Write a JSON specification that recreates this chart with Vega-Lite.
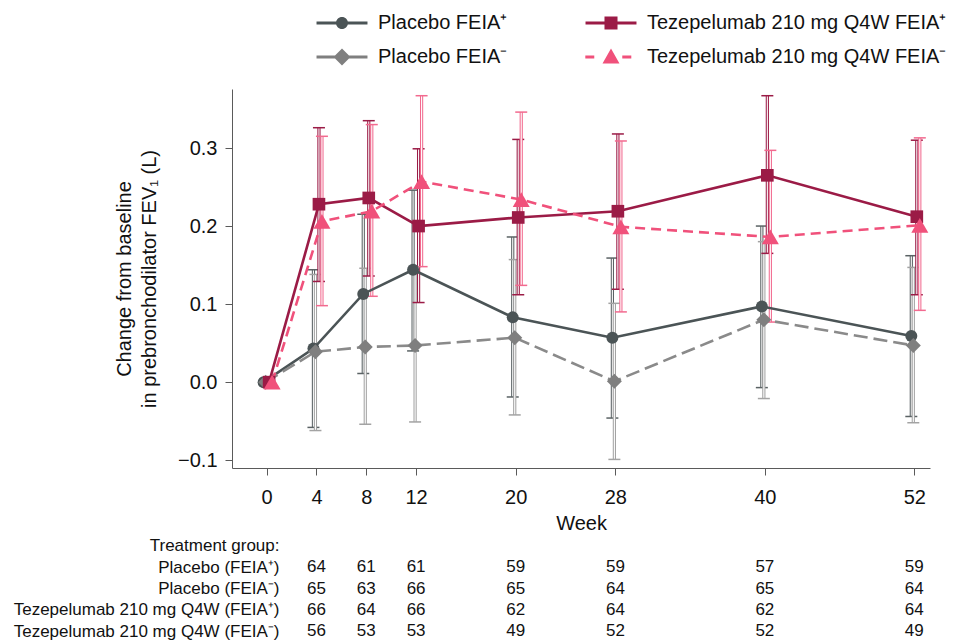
{
"$schema": "https://vega.github.io/schema/vega-lite/v6.json",
"padding": {"left": 13, "top": 13, "right": 5, "bottom": 5},
"config": {"font": "Liberation Sans", "view": {"stroke": null},
  "axis": {"grid": false, "domainColor": "#5a5a5a", "tickColor": "#5a5a5a", "labelColor": "#111111", "titleColor": "#111111", "labelFont": "Liberation Sans", "titleFont": "Liberation Sans", "titleFontWeight": "normal"}},
"datasets": {
 "fev": [
  {"series": "Placebo FEIA⁺", "week": 0, "mean": 0.0, "lo": null, "hi": null},
  {"series": "Placebo FEIA⁺", "week": 4, "mean": 0.043, "lo": -0.058, "hi": 0.144},
  {"series": "Placebo FEIA⁺", "week": 8, "mean": 0.113, "lo": 0.011, "hi": 0.215},
  {"series": "Placebo FEIA⁺", "week": 12, "mean": 0.144, "lo": 0.040, "hi": 0.246},
  {"series": "Placebo FEIA⁺", "week": 20, "mean": 0.083, "lo": -0.019, "hi": 0.186},
  {"series": "Placebo FEIA⁺", "week": 28, "mean": 0.057, "lo": -0.046, "hi": 0.159},
  {"series": "Placebo FEIA⁺", "week": 40, "mean": 0.097, "lo": -0.007, "hi": 0.200},
  {"series": "Placebo FEIA⁺", "week": 52, "mean": 0.059, "lo": -0.044, "hi": 0.162},
  {"series": "Placebo FEIA⁻", "week": 0, "mean": 0.0, "lo": null, "hi": null},
  {"series": "Placebo FEIA⁻", "week": 4, "mean": 0.039, "lo": -0.062, "hi": 0.138},
  {"series": "Placebo FEIA⁻", "week": 8, "mean": 0.045, "lo": -0.054, "hi": 0.146},
  {"series": "Placebo FEIA⁻", "week": 12, "mean": 0.047, "lo": -0.051, "hi": 0.148},
  {"series": "Placebo FEIA⁻", "week": 20, "mean": 0.057, "lo": -0.042, "hi": 0.157},
  {"series": "Placebo FEIA⁻", "week": 28, "mean": 0.001, "lo": -0.099, "hi": 0.101},
  {"series": "Placebo FEIA⁻", "week": 40, "mean": 0.080, "lo": -0.021, "hi": 0.180},
  {"series": "Placebo FEIA⁻", "week": 52, "mean": 0.047, "lo": -0.052, "hi": 0.147},
  {"series": "Tezepelumab 210 mg Q4W FEIA⁺", "week": 0, "mean": 0.0, "lo": null, "hi": null},
  {"series": "Tezepelumab 210 mg Q4W FEIA⁺", "week": 4, "mean": 0.228, "lo": 0.129, "hi": 0.326},
  {"series": "Tezepelumab 210 mg Q4W FEIA⁺", "week": 8, "mean": 0.236, "lo": 0.136, "hi": 0.335},
  {"series": "Tezepelumab 210 mg Q4W FEIA⁺", "week": 12, "mean": 0.200, "lo": 0.102, "hi": 0.299},
  {"series": "Tezepelumab 210 mg Q4W FEIA⁺", "week": 20, "mean": 0.211, "lo": 0.112, "hi": 0.311},
  {"series": "Tezepelumab 210 mg Q4W FEIA⁺", "week": 28, "mean": 0.219, "lo": 0.119, "hi": 0.318},
  {"series": "Tezepelumab 210 mg Q4W FEIA⁺", "week": 40, "mean": 0.265, "lo": 0.165, "hi": 0.367},
  {"series": "Tezepelumab 210 mg Q4W FEIA⁺", "week": 52, "mean": 0.212, "lo": 0.112, "hi": 0.310},
  {"series": "Tezepelumab 210 mg Q4W FEIA⁻", "week": 0, "mean": 0.0, "lo": null, "hi": null},
  {"series": "Tezepelumab 210 mg Q4W FEIA⁻", "week": 4, "mean": 0.206, "lo": 0.098, "hi": 0.315},
  {"series": "Tezepelumab 210 mg Q4W FEIA⁻", "week": 8, "mean": 0.219, "lo": 0.110, "hi": 0.330},
  {"series": "Tezepelumab 210 mg Q4W FEIA⁻", "week": 12, "mean": 0.257, "lo": 0.148, "hi": 0.367},
  {"series": "Tezepelumab 210 mg Q4W FEIA⁻", "week": 20, "mean": 0.234, "lo": 0.124, "hi": 0.346},
  {"series": "Tezepelumab 210 mg Q4W FEIA⁻", "week": 28, "mean": 0.199, "lo": 0.090, "hi": 0.309},
  {"series": "Tezepelumab 210 mg Q4W FEIA⁻", "week": 40, "mean": 0.186, "lo": 0.077, "hi": 0.297},
  {"series": "Tezepelumab 210 mg Q4W FEIA⁻", "week": 52, "mean": 0.201, "lo": 0.092, "hi": 0.313}
 ],
 "n": [
  {"group": "Placebo (FEIA⁺)", "week": 4, "n": 64},
  {"group": "Placebo (FEIA⁺)", "week": 8, "n": 61},
  {"group": "Placebo (FEIA⁺)", "week": 12, "n": 61},
  {"group": "Placebo (FEIA⁺)", "week": 20, "n": 59},
  {"group": "Placebo (FEIA⁺)", "week": 28, "n": 59},
  {"group": "Placebo (FEIA⁺)", "week": 40, "n": 57},
  {"group": "Placebo (FEIA⁺)", "week": 52, "n": 59},
  {"group": "Placebo (FEIA⁻)", "week": 4, "n": 65},
  {"group": "Placebo (FEIA⁻)", "week": 8, "n": 63},
  {"group": "Placebo (FEIA⁻)", "week": 12, "n": 66},
  {"group": "Placebo (FEIA⁻)", "week": 20, "n": 65},
  {"group": "Placebo (FEIA⁻)", "week": 28, "n": 64},
  {"group": "Placebo (FEIA⁻)", "week": 40, "n": 65},
  {"group": "Placebo (FEIA⁻)", "week": 52, "n": 64},
  {"group": "Tezepelumab 210 mg Q4W (FEIA⁺)", "week": 4, "n": 66},
  {"group": "Tezepelumab 210 mg Q4W (FEIA⁺)", "week": 8, "n": 64},
  {"group": "Tezepelumab 210 mg Q4W (FEIA⁺)", "week": 12, "n": 66},
  {"group": "Tezepelumab 210 mg Q4W (FEIA⁺)", "week": 20, "n": 62},
  {"group": "Tezepelumab 210 mg Q4W (FEIA⁺)", "week": 28, "n": 64},
  {"group": "Tezepelumab 210 mg Q4W (FEIA⁺)", "week": 40, "n": 62},
  {"group": "Tezepelumab 210 mg Q4W (FEIA⁺)", "week": 52, "n": 64},
  {"group": "Tezepelumab 210 mg Q4W (FEIA⁻)", "week": 4, "n": 56},
  {"group": "Tezepelumab 210 mg Q4W (FEIA⁻)", "week": 8, "n": 53},
  {"group": "Tezepelumab 210 mg Q4W (FEIA⁻)", "week": 12, "n": 53},
  {"group": "Tezepelumab 210 mg Q4W (FEIA⁻)", "week": 20, "n": 49},
  {"group": "Tezepelumab 210 mg Q4W (FEIA⁻)", "week": 28, "n": 52},
  {"group": "Tezepelumab 210 mg Q4W (FEIA⁻)", "week": 40, "n": 52},
  {"group": "Tezepelumab 210 mg Q4W (FEIA⁻)", "week": 52, "n": 49}
 ]
},
"spacing": 2,
"vconcat": [
 {
  "width": 698, "height": 379,
  "data": {"name": "fev"},
  "encoding": {
   "x": {"field": "week", "type": "quantitative", "scale": {"domain": [-2.78, 53.26], "nice": false, "zero": false},
         "axis": {"values": [0, 4, 8, 12, 20, 28, 40, 52], "format": "d", "labelFontSize": 20, "tickSize": 7, "labelPadding": 12, "title": "Week", "titleFontSize": 20, "titlePadding": 6}},
   "y": {"field": "mean", "type": "quantitative", "scale": {"domain": [-0.11, 0.3756], "nice": false, "zero": false},
         "axis": {"values": [-0.1, 0, 0.1, 0.2, 0.3], "format": ".1f", "labelFontSize": 20, "tickSize": 7, "labelPadding": 8, "title": ["Change from baseline", "in prebronchodilator FEV₁ (L)"], "titleFontSize": 20, "titleLineHeight": 25, "titlePadding": 18}}
  },
  "layer": [
   {"transform": [{"filter": "datum.series === 'Placebo FEIA⁺' && datum.week > 0"}],
    "layer": [
     {"mark": {"type": "rule", "color": "#5a6264", "strokeWidth": 3.2, "xOffset": -3}, "encoding": {"y": {"field": "lo", "type": "quantitative"}, "y2": {"field": "hi"}}},
     {"mark": {"type": "rule", "color": "#ffffff", "strokeWidth": 1.1, "xOffset": -3}, "encoding": {"y": {"field": "lo", "type": "quantitative"}, "y2": {"field": "hi"}}},
     {"mark": {"type": "tick", "orient": "horizontal", "color": "#5a6264", "size": 12, "thickness": 1.5, "opacity": 1, "xOffset": -3}, "encoding": {"y": {"field": "hi", "type": "quantitative"}}},
     {"mark": {"type": "tick", "orient": "horizontal", "color": "#5a6264", "size": 12, "thickness": 1.5, "opacity": 1, "xOffset": -3}, "encoding": {"y": {"field": "lo", "type": "quantitative"}}}
    ]},
   {"transform": [{"filter": "datum.series === 'Placebo FEIA⁻' && datum.week > 0"}],
    "layer": [
     {"mark": {"type": "rule", "color": "#a3a3a3", "strokeWidth": 3.2, "xOffset": -1}, "encoding": {"y": {"field": "lo", "type": "quantitative"}, "y2": {"field": "hi"}}},
     {"mark": {"type": "rule", "color": "#ffffff", "strokeWidth": 1.1, "xOffset": -1}, "encoding": {"y": {"field": "lo", "type": "quantitative"}, "y2": {"field": "hi"}}},
     {"mark": {"type": "tick", "orient": "horizontal", "color": "#a3a3a3", "size": 12, "thickness": 1.5, "opacity": 1, "xOffset": -1}, "encoding": {"y": {"field": "hi", "type": "quantitative"}}},
     {"mark": {"type": "tick", "orient": "horizontal", "color": "#a3a3a3", "size": 12, "thickness": 1.5, "opacity": 1, "xOffset": -1}, "encoding": {"y": {"field": "lo", "type": "quantitative"}}}
    ]},
   {"transform": [{"filter": "datum.series === 'Tezepelumab 210 mg Q4W FEIA⁺' && datum.week > 0"}],
    "layer": [
     {"mark": {"type": "rule", "color": "#9b1b46", "strokeWidth": 3.2, "xOffset": 2.5}, "encoding": {"y": {"field": "lo", "type": "quantitative"}, "y2": {"field": "hi"}}},
     {"mark": {"type": "rule", "color": "#ffffff", "strokeWidth": 1.1, "xOffset": 2.5}, "encoding": {"y": {"field": "lo", "type": "quantitative"}, "y2": {"field": "hi"}}},
     {"mark": {"type": "tick", "orient": "horizontal", "color": "#9b1b46", "size": 12, "thickness": 1.5, "opacity": 1, "xOffset": 2.5}, "encoding": {"y": {"field": "hi", "type": "quantitative"}}},
     {"mark": {"type": "tick", "orient": "horizontal", "color": "#9b1b46", "size": 12, "thickness": 1.5, "opacity": 1, "xOffset": 2.5}, "encoding": {"y": {"field": "lo", "type": "quantitative"}}}
    ]},
   {"transform": [{"filter": "datum.series === 'Tezepelumab 210 mg Q4W FEIA⁻' && datum.week > 0"}],
    "layer": [
     {"mark": {"type": "rule", "color": "#f26a8f", "strokeWidth": 3.2, "xOffset": 5.5}, "encoding": {"y": {"field": "lo", "type": "quantitative"}, "y2": {"field": "hi"}}},
     {"mark": {"type": "rule", "color": "#ffffff", "strokeWidth": 1.1, "xOffset": 5.5}, "encoding": {"y": {"field": "lo", "type": "quantitative"}, "y2": {"field": "hi"}}},
     {"mark": {"type": "tick", "orient": "horizontal", "color": "#f26a8f", "size": 12, "thickness": 1.5, "opacity": 1, "xOffset": 5.5}, "encoding": {"y": {"field": "hi", "type": "quantitative"}}},
     {"mark": {"type": "tick", "orient": "horizontal", "color": "#f26a8f", "size": 12, "thickness": 1.5, "opacity": 1, "xOffset": 5.5}, "encoding": {"y": {"field": "lo", "type": "quantitative"}}}
    ]},
   {"transform": [{"filter": "datum.series === 'Placebo FEIA⁺'"}], "mark": {"type": "line", "color": "#4b5456", "strokeWidth": 2.6, "xOffset": -3}},
   {"transform": [{"filter": "datum.series === 'Placebo FEIA⁻'"}], "mark": {"type": "line", "color": "#8a8a8a", "strokeWidth": 2.6, "strokeDash": [14, 6], "xOffset": -1}},
   {"transform": [{"filter": "datum.series === 'Tezepelumab 210 mg Q4W FEIA⁺'"}], "mark": {"type": "line", "color": "#9b1b46", "strokeWidth": 2.6, "xOffset": 2.5}},
   {"transform": [{"filter": "datum.series === 'Tezepelumab 210 mg Q4W FEIA⁻'"}], "mark": {"type": "line", "color": "#f0517b", "strokeWidth": 2.6, "strokeDash": [10, 6], "xOffset": 5.5}},
   {"transform": [{"filter": "datum.series === 'Placebo FEIA⁺'"}], "mark": {"type": "point", "shape": "circle", "filled": true, "size": 144, "color": "#4b5456", "opacity": 1, "xOffset": -3}},
   {"transform": [{"filter": "datum.series === 'Placebo FEIA⁻'"}], "mark": {"type": "point", "shape": "diamond", "filled": true, "size": 225, "color": "#7f7f7f", "opacity": 1, "xOffset": -1}},
   {"transform": [{"filter": "datum.series === 'Tezepelumab 210 mg Q4W FEIA⁺'"}], "mark": {"type": "point", "shape": "square", "filled": true, "size": 160, "color": "#9b1b46", "opacity": 1, "xOffset": 2.5}},
   {"transform": [{"filter": "datum.series === 'Tezepelumab 210 mg Q4W FEIA⁻'"}], "mark": {"type": "point", "shape": "triangle-up", "filled": true, "size": 289, "color": "#f0517b", "opacity": 1, "xOffset": 5.5}},
   {"transform": [{"filter": "datum.week < -100"}],
    "mark": {"type": "point", "filled": true, "size": 196, "opacity": 1},
    "encoding": {
     "color": {"field": "series", "type": "nominal",
       "scale": {"domain": ["Placebo FEIA⁺", "Placebo FEIA⁻", "Tezepelumab 210 mg Q4W FEIA⁺", "Tezepelumab 210 mg Q4W FEIA⁻"], "range": ["#4b5456", "#7f7f7f", "#9b1b46", "#f0517b"]},
       "legend": {"title": null, "orient": "none", "legendX": 100, "legendY": -76, "columns": 2, "columnPadding": 77, "rowPadding": 14, "labelFontSize": 20, "labelLimit": 500, "labelOffset": 26, "labelColor": "#111111", "symbolSize": 196, "symbolOpacity": 1, "symbolStrokeWidth": 0, "padding": 0}},
     "shape": {"field": "series", "type": "nominal",
       "scale": {"domain": ["Placebo FEIA⁺", "Placebo FEIA⁻", "Tezepelumab 210 mg Q4W FEIA⁺", "Tezepelumab 210 mg Q4W FEIA⁻"],
                 "range": ["M-3.64,-0.21H3.64V0.21H-3.64Z M-0.86,0A0.86,0.86 0 1,1 0.86,0A0.86,0.86 0 1,1 -0.86,0Z",
                           "M-3.64,-0.21H3.64V0.21H-3.64Z M0,-1.21L1.21,0L0,1.21L-1.21,0Z",
                           "M-3.64,-0.21H3.64V0.21H-3.64Z M-0.93,-0.93H0.93V0.93H-0.93Z",
                           "M-3.67,-0.21H-2.39V0.21H-3.67Z M1.61,-0.21H2.9V0.21H1.61Z M0,-1.2L1.21,0.94H-1.21Z"]},
       "legend": {"title": null, "orient": "none", "legendX": 100, "legendY": -76, "columns": 2, "columnPadding": 77, "rowPadding": 14, "labelFontSize": 20, "labelLimit": 500, "labelOffset": 26, "labelColor": "#111111", "symbolSize": 196, "symbolOpacity": 1, "symbolStrokeWidth": 0, "padding": 0}}
    }}
  ]
 },
 {
  "width": 698, "height": 107,
  "data": {"name": "n"},
  "mark": {"type": "text", "fontSize": 17, "color": "#111111"},
  "encoding": {
   "x": {"field": "week", "type": "quantitative", "scale": {"domain": [-2.78, 53.26], "nice": false, "zero": false}, "axis": null},
   "y": {"field": "group", "type": "nominal",
         "scale": {"type": "point", "domain": ["Treatment group:", "Placebo (FEIA⁺)", "Placebo (FEIA⁻)", "Tezepelumab 210 mg Q4W (FEIA⁺)", "Tezepelumab 210 mg Q4W (FEIA⁻)"], "padding": 0.5},
         "axis": {"title": null, "domain": false, "ticks": false, "labelPadding": -47, "labelFontSize": 17, "labelColor": "#111111", "labelLimit": 400}},
   "text": {"field": "n", "type": "quantitative"}
  }
 }
]
}
